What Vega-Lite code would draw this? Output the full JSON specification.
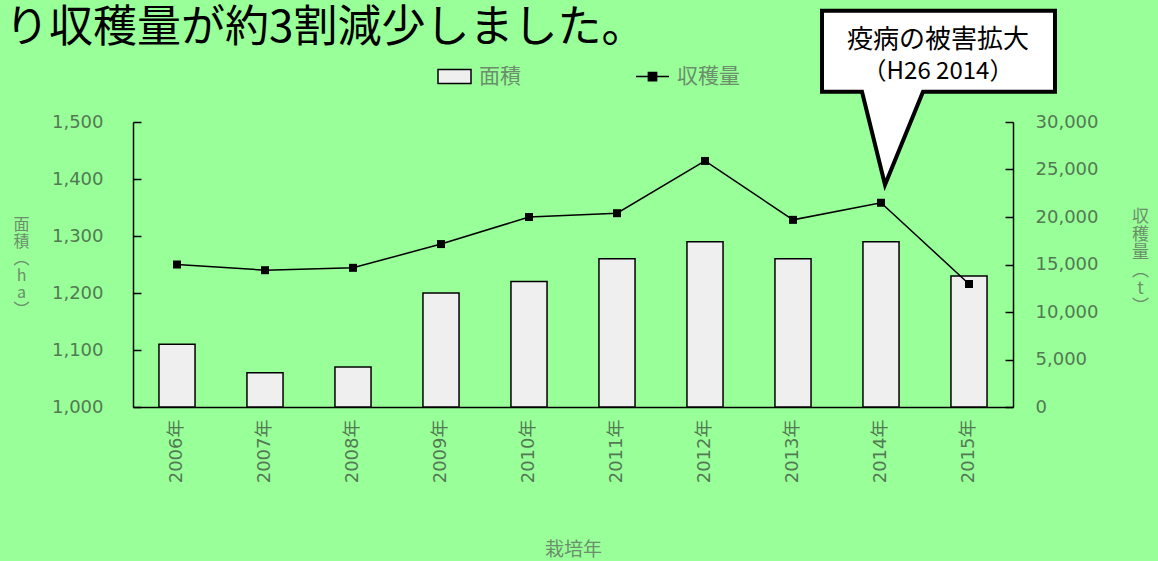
{
  "$schema": "https://vega.github.io/schema/vega-lite/v6.json",
  "width": 880,
  "height": 285,
  "autosize": {"type": "none"},
  "padding": {"left": 133, "top": 122, "right": 145, "bottom": 154},
  "background": "#99ff99",
  "config": {
    "view": {"stroke": null},
    "font": "Noto Sans CJK JP",
    "axis": {
      "grid": false,
      "labelFont": "DejaVu Sans, Noto Sans CJK JP",
      "labelFontSize": 18,
      "labelColor": "#527a52",
      "domainColor": "black",
      "domainWidth": 1.5,
      "tickColor": "black",
      "tickWidth": 1.5,
      "titleColor": "#6a8f6a",
      "titleFont": "Noto Sans CJK JP",
      "titleFontWeight": "normal"
    }
  },
  "title": {
    "text": "り収穫量が約3割減少しました。",
    "anchor": "start",
    "frame": "group",
    "fontSize": 44,
    "fontWeight": "normal",
    "color": "black",
    "font": "Noto Sans CJK JP",
    "baseline": "top",
    "dx": -128,
    "dy": 58,
    "offset": 10
  },
  "datasets": {
    "main": [
      {"year": "2006年", "area": 1110, "t": 15000},
      {"year": "2007年", "area": 1060, "t": 14400},
      {"year": "2008年", "area": 1070, "t": 14650},
      {"year": "2009年", "area": 1200, "t": 17150},
      {"year": "2010年", "area": 1220, "t": 20000},
      {"year": "2011年", "area": 1260, "t": 20400},
      {"year": "2012年", "area": 1290, "t": 25900},
      {"year": "2013年", "area": 1260, "t": 19700},
      {"year": "2014年", "area": 1290, "t": 21500},
      {"year": "2015年", "area": 1230, "t": 12950}
    ],
    "note": [
      {"year": "2014年", "t": 23400, "line1": "疫病の被害拡大", "line2": "（H26 2014）"}
    ]
  },
  "data": {"name": "main"},
  "encoding": {
    "x": {
      "field": "year",
      "type": "nominal",
      "sort": null,
      "scale": {"paddingInner": 0.59, "paddingOuter": 0.295},
      "axis": {
        "title": "栽培年",
        "titleFontSize": 19,
        "titlePadding": 58,
        "labelAngle": -90,
        "labelPadding": 12,
        "ticks": false
      }
    }
  },
  "layer": [
    {
      "mark": {"type": "bar", "stroke": "black", "strokeWidth": 1.5},
      "encoding": {
        "y": {
          "field": "area",
          "type": "quantitative",
          "scale": {"domain": [1000, 1500], "zero": false, "nice": false},
          "axis": {
            "values": [1000, 1100, 1200, 1300, 1400, 1500],
            "format": ",.0f",
            "tickSize": -8,
            "labelPadding": 38,
            "title": ["面", "積", "︵", "h", "a", "︶"],
            "titleAngle": 0,
            "titleFontSize": 16,
            "titleLineHeight": 17,
            "titleAlign": "center",
            "titleBaseline": "top",
            "titleX": -112,
            "titleY": 94
          }
        },
        "y2": {"datum": 1000},
        "fill": {
          "datum": "面積",
          "type": "nominal",
          "scale": {"range": ["#efefef"]},
          "legend": {
            "orient": "none",
            "legendX": 304,
            "legendY": -63,
            "title": null,
            "padding": 0,
            "symbolType": "M-1,-0.42H1V0.42H-1Z",
            "symbolSize": 1089,
            "symbolStrokeColor": "black",
            "symbolStrokeWidth": 1.5,
            "labelFontSize": 21,
            "labelColor": "#6a8f6a",
            "labelOffset": 7
          }
        }
      }
    },
    {
      "encoding": {
        "y": {
          "field": "t",
          "type": "quantitative",
          "scale": {"domain": [0, 30000], "nice": false},
          "axis": {
            "orient": "right",
            "values": [0, 5000, 10000, 15000, 20000, 25000, 30000],
            "format": ",.0f",
            "tickSize": -8,
            "labelPadding": 30,
            "title": ["収", "穫", "量", "︵", "t", "︶"],
            "titleAngle": 0,
            "titleFontSize": 17,
            "titleLineHeight": 18,
            "titleAlign": "center",
            "titleBaseline": "top",
            "titleX": 127,
            "titleY": 86
          }
        }
      },
      "layer": [
        {
          "mark": {"type": "line", "color": "black", "strokeWidth": 1.5},
          "encoding": {
            "stroke": {
              "datum": "収穫量",
              "type": "nominal",
              "scale": {"range": ["black"]},
              "legend": {
                "orient": "none",
                "legendX": 502,
                "legendY": -63,
                "title": null,
                "padding": 0,
                "symbolType": "M-1,0H1M-0.25,-0.25H0.25V0.25H-0.25Z",
                "symbolSize": 1089,
                "symbolStrokeWidth": 1.5,
                "labelFontSize": 21,
                "labelColor": "#6a8f6a",
                "labelOffset": 7,
                "encode": {"symbols": {"update": {"fill": {"value": "black"}, "stroke": {"value": "black"}}}}
              }
            }
          }
        },
        {
          "mark": {"type": "point", "shape": "square", "filled": true, "color": "black", "size": 64, "opacity": 1}
        },
        {
          "data": {"name": "note"},
          "mark": {
            "type": "point",
            "shape": "M4,0L-19,-93L-59,-93L-59,-174L174,-174L174,-93L42,-93Z",
            "size": 4,
            "filled": true,
            "fill": "white",
            "stroke": "black",
            "strokeWidth": 4,
            "strokeJoin": "miter",
            "opacity": 1
          }
        },
        {
          "data": {"name": "note"},
          "mark": {"type": "text", "fontSize": 26, "color": "black", "baseline": "middle", "align": "center", "dx": 57, "dy": -145, "font": "Noto Sans CJK JP"},
          "encoding": {"text": {"field": "line1"}}
        },
        {
          "data": {"name": "note"},
          "mark": {"type": "text", "fontSize": 24, "color": "black", "baseline": "middle", "align": "center", "dx": 57, "dy": -113, "font": "Noto Sans CJK JP"},
          "encoding": {"text": {"field": "line2"}}
        }
      ]
    }
  ],
  "resolve": {"scale": {"y": "independent"}}
}
